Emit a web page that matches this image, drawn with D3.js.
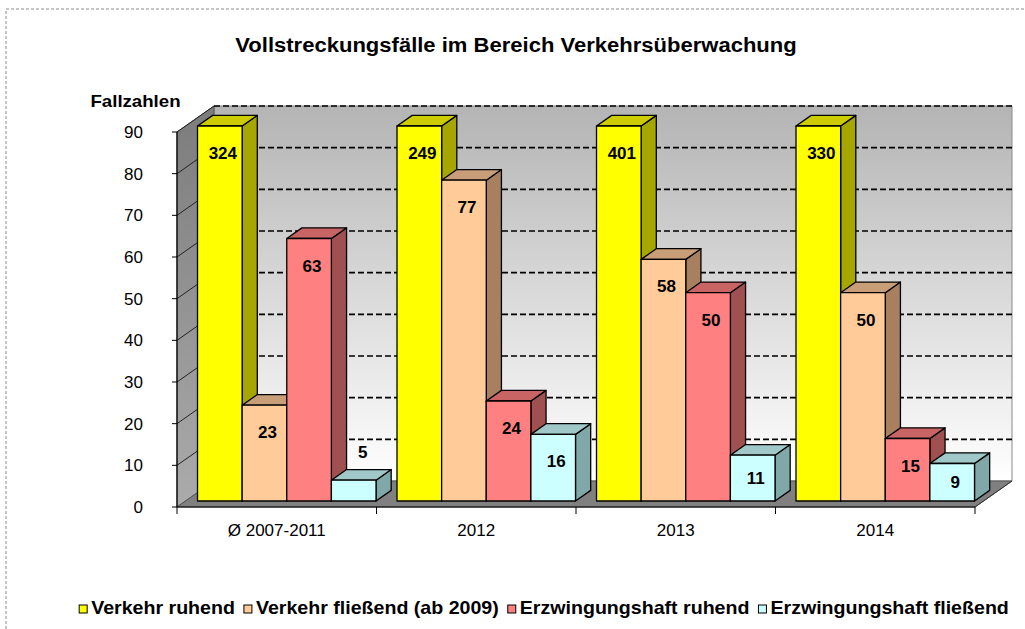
<!DOCTYPE html>
<html>
<head>
<meta charset="utf-8">
<script src="https://cdn.jsdelivr.net/npm/d3@7"></script>
<style>
  html, body { margin: 0; padding: 0; background: #fff; }
  svg { display: block; font-family: Arial, "Liberation Sans", sans-serif; }
</style>
</head>
<body>
<svg id="chart" width="1025" height="629"></svg>
<script>
// ---- data ----
const title = "Vollstreckungsfälle im Bereich Verkehrsüberwachung";
const yAxisTitle = "Fallzahlen";
const categories = ["Ø 2007-2011", "2012", "2013", "2014"];
const seriesNames = ["Verkehr ruhend", "Verkehr fließend (ab 2009)", "Erzwingungshaft ruhend", "Erzwingungshaft fließend"];
const verkehrRuhend = [324, 249, 401, 330];
const verkehrFliessend = [23, 77, 58, 50];
const erzwingungshaftRuhend = [63, 24, 50, 15];
const erzwingungshaftFliessend = [5, 16, 11, 9];
const yTicks = [0, 10, 20, 30, 40, 50, 60, 70, 80, 90];
const yMax = 90;

const seriesValues = [verkehrRuhend, verkehrFliessend, erzwingungshaftRuhend, erzwingungshaftFliessend];
const palette = [
  { front: "#FFFF00", top: "#CCCC00", side: "#A6A600" },
  { front: "#FFCC99", top: "#C89E78", side: "#A88060" },
  { front: "#FF8080", top: "#C86464", side: "#A05050" },
  { front: "#CCFFFF", top: "#A0C8C8", side: "#80A8A8" }
];

// ---- layout ----
const svg = d3.select("#chart");
const front = { x0: 177, x1: 975 };
const y = d3.scaleLinear().domain([0, yMax]).range([507, 132]);
const depth = { dx: 37, dy: -26 };         // full floor depth
const barZ0 = 0.23, barZ1 = 0.64;           // bar depth range (fraction)
const x0 = d3.scaleBand().domain(categories).range([front.x0, front.x1]);
const x1 = d3.scaleBand().domain(seriesNames).range([12, x0.bandwidth() - 9]);

function addText(g, x, yy, txt, size, weight, anchor, sx) {
  return g.append("text")
    .attr("transform", `translate(${x},${yy}) scale(${sx || 1},1)`)
    .attr("text-anchor", anchor || "middle")
    .attr("font-size", size)
    .attr("font-weight", weight || "normal")
    .attr("fill", "#000")
    .text(txt);
}

// outer dashed frame
svg.append("path")
  .attr("d", "M6,629 L6,9 L1025,9")
  .attr("fill", "none").attr("stroke", "#8c8c8c").attr("stroke-width", 1)
  .attr("stroke-dasharray", "3,2");

// gradients
const defs = svg.append("defs");
const gBack = defs.append("linearGradient").attr("id", "gBack").attr("x1", 0).attr("y1", 0).attr("x2", 0).attr("y2", 1);
gBack.append("stop").attr("offset", "0%").attr("stop-color", "#b4b4b4");
gBack.append("stop").attr("offset", "100%").attr("stop-color", "#ffffff");
const gSide = defs.append("linearGradient").attr("id", "gSide").attr("x1", 0).attr("y1", 0).attr("x2", 0).attr("y2", 1);
gSide.append("stop").attr("offset", "0%").attr("stop-color", "#7c7c7c");
gSide.append("stop").attr("offset", "100%").attr("stop-color", "#ababab");

const bx0 = front.x0 + depth.dx, bx1 = front.x1 + depth.dx;
const yb = v => y(v) + depth.dy;

// back wall
svg.append("polygon")
  .attr("points", [[bx0, yb(0)], [bx1, yb(0)], [bx1, yb(yMax)], [bx0, yb(yMax)]].map(p => p.join(",")).join(" "))
  .attr("fill", "url(#gBack)").attr("stroke", "#8a8a8a").attr("stroke-width", 1);

// left wall
svg.append("polygon")
  .attr("points", [[front.x0, y(0)], [bx0, yb(0)], [bx0, yb(yMax)], [front.x0, y(yMax)]].map(p => p.join(",")).join(" "))
  .attr("fill", "url(#gSide)").attr("stroke", "#555").attr("stroke-width", 1);

// gridlines on back wall (dashed) and on the side wall
yTicks.filter(t => t > 0).forEach(t => {
  svg.append("line")
    .attr("x1", bx0).attr("x2", bx1).attr("y1", yb(t)).attr("y2", yb(t))
    .attr("stroke", "#000").attr("stroke-width", 1.6).attr("stroke-dasharray", "6,3");
  svg.append("line")
    .attr("x1", front.x0).attr("x2", bx0).attr("y1", y(t)).attr("y2", yb(t))
    .attr("stroke", "#222").attr("stroke-width", 1);
});

// floor
svg.append("polygon")
  .attr("points", [[front.x0, y(0)], [front.x1, y(0)], [bx1, yb(0)], [bx0, yb(0)]].map(p => p.join(",")).join(" "))
  .attr("fill", "#808080").attr("stroke", "#555").attr("stroke-width", 1);

// bars
const zx0 = depth.dx * barZ0, zy0 = depth.dy * barZ0;
const bdx = depth.dx * (barZ1 - barZ0), bdy = depth.dy * (barZ1 - barZ0);
const barsG = svg.append("g");
const labelsG = svg.append("g");
categories.forEach((cat, ci) => {
  seriesNames.forEach((s, si) => {
    const v = seriesValues[si][ci];
    const vc = Math.min(v, yMax);
    const fx = x0(cat) + x1(s) + zx0;
    const w = x1.bandwidth();
    const yt = y(vc) + zy0;
    const ybot = y(0) + zy0;
    const col = palette[si];
    const g = barsG.append("g").attr("stroke", "#000").attr("stroke-width", 1.3).attr("stroke-linejoin", "round");
    g.append("polygon")
      .attr("points", [[fx + w, yt], [fx + w + bdx, yt + bdy], [fx + w + bdx, ybot + bdy], [fx + w, ybot]].map(p => p.join(",")).join(" "))
      .attr("fill", col.side);
    g.append("polygon")
      .attr("points", [[fx, yt], [fx + w, yt], [fx + w + bdx, yt + bdy], [fx + bdx, yt + bdy]].map(p => p.join(",")).join(" "))
      .attr("fill", col.top);
    g.append("rect")
      .attr("x", fx).attr("y", yt).attr("width", w).attr("height", ybot - yt)
      .attr("fill", col.front);
    // value label
    const h = ybot - yt;
    let cy, cx = fx + w / 2 + 3;
    if (h >= 30) cy = yt + Math.min(27, h / 2);
    else { cy = yt - 28; cx = fx + w / 2 + 9; }
    addText(labelsG, cx, cy + 6, String(v), 17, "bold");
  });
});

// front axis line + category ticks
svg.append("line").attr("x1", front.x0).attr("x2", front.x1).attr("y1", y(0)).attr("y2", y(0))
  .attr("stroke", "#000").attr("stroke-width", 1.2);
svg.append("line").attr("x1", front.x1).attr("x2", bx1).attr("y1", y(0)).attr("y2", yb(0))
  .attr("stroke", "#333").attr("stroke-width", 1);
const tickXs = categories.map(c => x0(c)).concat([front.x1]);
tickXs.forEach(tx => {
  svg.append("line").attr("x1", tx).attr("x2", tx).attr("y1", y(0)).attr("y2", y(0) + 7)
    .attr("stroke", "#000").attr("stroke-width", 1);
});
categories.forEach(c => {
  addText(svg, x0(c) + x0.bandwidth() / 2, 536, c, 17, "normal");
});

// y axis
svg.append("line").attr("x1", front.x0).attr("x2", front.x0).attr("y1", y(yMax)).attr("y2", y(0))
  .attr("stroke", "#000").attr("stroke-width", 1.2);
yTicks.forEach(t => {
  svg.append("line").attr("x1", front.x0 - 5).attr("x2", front.x0).attr("y1", y(t)).attr("y2", y(t))
    .attr("stroke", "#000").attr("stroke-width", 1);
  addText(svg, 143, y(t) + 6, String(t), 17, "normal", "end");
});

// titles
addText(svg, 516, 52, title, 19.5, "bold", "middle", 1.13);
addText(svg, 135.5, 107, yAxisTitle, 16.5, "bold", "middle", 1.13);

// legend
const LSX = 1.06;
const legendG = svg.append("g");
let cursor = 0;
seriesNames.forEach((s, i) => {
  const it = legendG.append("g");
  it.append("rect").attr("x", cursor).attr("y", 605).attr("width", 8).attr("height", 8)
    .attr("fill", palette[i].front).attr("stroke", "#000").attr("stroke-width", 1);
  const t = addText(it, cursor + 12, 614, s, 18.5, "bold", "start", LSX);
  const tw = t.node().getComputedTextLength() * LSX;
  cursor += 12 + tw + 9;
});
const total = cursor - 9;
legendG.attr("transform", `translate(${544 - total / 2},0)`);
</script>
</body>
</html>
